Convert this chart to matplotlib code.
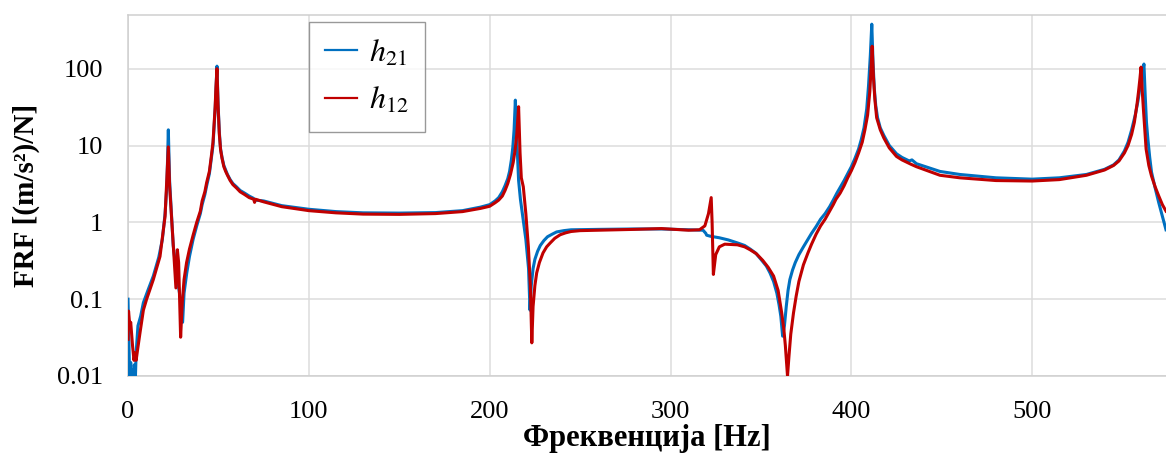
import matplotlib
matplotlib.use("Agg")
import matplotlib.pyplot as plt
from matplotlib.ticker import FixedLocator, FixedFormatter, NullLocator

plt.rcParams["font.family"] = ["Liberation Serif", "DejaVu Serif"]
plt.rcParams["mathtext.fontset"] = "stix"

# h21 (blue)
f21 = [0, 0.5, 1, 1.5, 2, 2.5, 3, 3.5, 4, 4.5, 5.5, 7, 8.5, 11, 14, 17, 19, 20.5, 21.5, 22.3,
       23, 25, 27, 29, 30.2, 31, 32.5, 34, 36, 38, 40, 41, 42.5, 43.5, 45, 46, 47, 47.5, 48.2,
       48.6, 49.2, 49.8, 50.5, 51.2, 52, 53, 54, 55, 56.5, 58, 60, 62, 64.5, 67, 69.5, 70, 75,
       85, 100, 115, 130, 150, 170, 185, 195, 200, 203, 205, 207, 208.5, 210, 211, 212, 212.8,
       213.5, 214.2, 215, 216, 217, 218.5, 220, 221.5, 222.3, 223, 224, 225, 226.5, 228, 230,
       232, 234.5, 237, 241, 245, 260, 280, 295, 310, 318, 319.5, 320, 322, 327, 332, 337, 341,
       344, 347, 350, 353, 355, 357, 358.8, 360, 361, 362, 363, 364, 365, 366, 367.5, 369, 371,
       373.5, 376, 378, 380.5, 383, 385.5, 388, 390, 392, 394, 396, 398, 400, 402, 404, 405.5,
       407, 408.5, 409.5, 410.5, 411.3, 412, 412.7, 413.5, 414.5, 416, 418, 421, 425, 428, 432,
       433.5, 436, 440, 449, 460, 480, 500, 515, 530, 540, 545, 548, 551, 553, 555, 557, 558.5,
       559.5, 560.8, 561.8, 562.5, 563.2, 564, 565, 566, 568, 570, 572, 574]
h21 = [0.1, 0.03, 0.008, 0.015, 0.007, 0.012, 0.008, 0.014, 0.008, 0.02, 0.045, 0.06, 0.09,
       0.13, 0.2, 0.35, 0.6, 1.3, 3.0, 16, 3.5, 0.5, 0.2, 0.1, 0.05, 0.12, 0.22, 0.36, 0.6, 0.9,
       1.3, 1.7, 2.3, 3.0, 4.3, 6.5, 10, 16, 30, 50, 108, 35, 15, 9, 7, 5.5, 4.8, 4.2, 3.6, 3.2,
       2.9, 2.6, 2.4, 2.2, 2.05, 1.95, 1.9, 1.65, 1.48, 1.38, 1.33, 1.32, 1.34, 1.42, 1.58, 1.7,
       1.9, 2.1, 2.5, 3.0, 3.7, 4.6, 6.5, 9.5, 16, 39, 12, 3.5, 2.0, 1.1, 0.6, 0.25, 0.072, 0.15,
       0.25, 0.33, 0.42, 0.5, 0.58, 0.65, 0.7, 0.75, 0.78, 0.8, 0.81, 0.82, 0.82, 0.8, 0.79,
       0.72, 0.68, 0.66, 0.63, 0.59, 0.54, 0.5, 0.45, 0.4, 0.33, 0.27, 0.22, 0.17, 0.12, 0.085,
       0.06, 0.033, 0.045, 0.08, 0.13, 0.18, 0.24, 0.3, 0.38, 0.48, 0.6, 0.72, 0.88, 1.1, 1.3,
       1.6, 1.95, 2.4, 2.9, 3.5, 4.3, 5.3, 6.8, 9, 12, 17, 30, 60, 150, 380, 120, 55, 33, 23, 17,
       13.5, 10, 7.8, 7, 6.3, 6.5, 5.8, 5.4, 4.6, 4.2, 3.8, 3.65, 3.8, 4.2, 4.9, 5.6, 6.5, 8.5,
       11, 16, 25, 38, 55, 85, 115, 45, 20, 12, 7, 4.5, 2.8, 1.8, 1.2, 0.8]

# h12 (red)
f12 = [0, 0.3, 1, 1.5, 2.5, 3.3, 4, 4.5, 5.3, 6.6, 8.5, 10.3, 14, 17.7, 20.5, 21.4, 22.3, 23,
       24.5, 26.5, 27.3, 28, 29.1, 30, 31, 32.4, 34, 36, 38, 40, 41, 42.5, 43.5, 45, 46, 47,
       47.5, 48.2, 48.6, 49.2, 49.8, 50.5, 51.2, 52, 53, 54, 55, 56.5, 58, 60, 62, 64.5, 67,
       69.5, 70, 70.5, 75, 85, 100, 115, 130, 150, 170, 185, 195, 200, 203, 205, 207, 208.5,
       210, 211.5, 213, 214, 215, 216, 216.8, 217.5, 218.6, 220, 221.4, 222.5, 223.3, 224, 225,
       226, 227.5, 229.5, 231.5, 233.5, 236, 239, 242, 245, 250, 260, 280, 295, 310, 316, 319,
       321, 322.5, 323, 323.7, 325, 327, 330, 337, 341, 344, 347.5, 351, 354, 357, 359.5, 361.5,
       362.7, 363.5, 364.7, 365.5, 366.5, 368, 369.5, 371, 373.5, 376, 378, 380.5, 383, 385.5,
       388, 390, 391.5, 393.8, 396, 398, 400, 402, 404, 406, 407.5, 409, 410.2, 410.8, 411.5,
       412.2, 413, 414, 416, 418, 421, 425, 428, 431, 433, 436, 440, 449, 460, 480, 500, 515,
       530, 540, 545, 548, 551, 553, 555, 556.5, 558, 558.8, 559.6, 560.2, 560.9, 561.5, 562.3,
       563, 564.5, 566, 568, 570, 572, 574]
h12 = [0.03, 0.07, 0.045, 0.05, 0.025, 0.016, 0.02, 0.016, 0.022, 0.036, 0.072, 0.1, 0.18, 0.36,
       1.2, 3.3, 9.6, 3, 0.8, 0.14, 0.44, 0.3, 0.032, 0.09, 0.18, 0.3, 0.45, 0.68, 1.0, 1.4, 1.9,
       2.5, 3.3, 4.6, 7, 11, 17, 32, 55, 100, 33, 14, 8.8, 6.8, 5.3, 4.6, 4.1, 3.5, 3.1, 2.8,
       2.5, 2.3, 2.1, 2.0, 1.82, 2.0, 1.85, 1.6, 1.42, 1.33, 1.28, 1.27, 1.3, 1.38, 1.52, 1.62,
       1.8, 1.95, 2.2, 2.6, 3.2, 4.2, 6, 8.5, 14, 32, 8, 3.8, 2.9, 1.3, 0.48, 0.15, 0.027, 0.08,
       0.15, 0.22, 0.3, 0.4, 0.48, 0.54, 0.62, 0.69, 0.73, 0.76, 0.78, 0.79, 0.81, 0.83, 0.79,
       0.8, 0.9, 1.3, 2.1, 1.0, 0.21, 0.38, 0.48, 0.52, 0.51, 0.48, 0.44, 0.39, 0.32, 0.26, 0.2,
       0.13, 0.066, 0.04, 0.025, 0.01, 0.018, 0.035, 0.066, 0.11, 0.17, 0.28, 0.4, 0.52, 0.7,
       0.9, 1.1, 1.4, 1.7, 2.0, 2.4, 3.0, 3.8, 4.7, 6, 8, 11, 16, 25, 50, 90, 196, 80, 40, 23,
       16, 12.5, 9.3, 7.2, 6.5, 6.0, 5.7, 5.3, 4.9, 4.1, 3.8, 3.5, 3.45, 3.6, 4.1, 4.8, 5.5, 6.3,
       8, 10, 14, 20, 35, 50, 75, 105, 50, 30, 16, 9, 5.5, 4, 2.9, 2.2, 1.7, 1.4]

x_ticks = [0, 100, 200, 300, 400, 500]
y_ticks = [0.01, 0.1, 1, 10, 100]
y_labels = ["0.01", "0.1", "1", "10", "100"]

W, H = 1166, 454
fig = plt.figure(figsize=(W / 100, H / 100), dpi=100)
ax = fig.add_axes([128 / W, 78 / H, 1038 / W, 361 / H])

ax.plot(f21, h21, color="#0070C0", lw=2.2, label=r"$h_{21}$", zorder=3)
ax.plot(f12, h12, color="#C00000", lw=2.2, label=r"$h_{12}$", zorder=4)

ax.set_yscale("log")
ax.set_xlim(0, 574)
ax.set_ylim(0.01, 500)
ax.yaxis.set_major_locator(FixedLocator(y_ticks))
ax.yaxis.set_major_formatter(FixedFormatter(y_labels))
ax.yaxis.set_minor_locator(NullLocator())
ax.set_xticks(x_ticks)

ax.grid(True, color="#dcdcdc", lw=1.1)
ax.set_axisbelow(True)
for side in ["top", "left", "bottom"]:
    ax.spines[side].set_color("#cfcfcf")
    ax.spines[side].set_linewidth(1.1)
ax.spines["right"].set_visible(False)
ax.tick_params(length=0, labelsize=19)
ax.tick_params(axis="x", pad=18)
ax.tick_params(axis="y", pad=18)

ax.set_xlabel("Фреквенција [Hz]", fontsize=22, fontweight="bold", labelpad=1)
ax.set_ylabel("FRF [(m/s²)/N]", fontsize=21, fontweight="bold", labelpad=12)

leg = ax.legend(loc="upper left", bbox_to_anchor=(0.174, 0.98), fontsize=23,
                frameon=True, fancybox=False, edgecolor="#808080", handlelength=1.0,
                handletextpad=0.4, labelspacing=0.55, borderpad=0.5, borderaxespad=0)
leg.get_frame().set_linewidth(1.0)
for line in leg.get_lines():
    line.set_linewidth(1.6)

fig.savefig("out.png", dpi=100)
